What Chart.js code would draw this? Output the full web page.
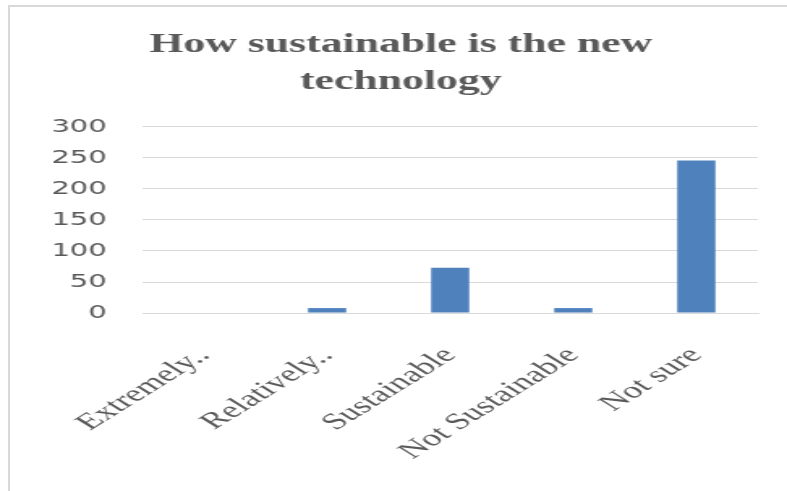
<!DOCTYPE html>
<html lang="en">

<head>
    <meta charset="UTF-8">
    <script src="https://cdn.jsdelivr.net/npm/chart.js"></script>
    <title>How sustainable is the new technology</title>
    <style>
        html, body {
            margin: 0;
            padding: 0;
            background: #ffffff;
            overflow: hidden;
        }

        .frame {
            position: absolute;
            left: 8px;
            top: 5px;
            width: 800px;
            height: 500px;
            border-left: 2px solid #d9d9d9;
            border-top: 2px solid #d9d9d9;
        }

        /* the reference is stretched sideways, so draw narrow and widen */
        .stretch {
            position: absolute;
            left: 0;
            top: 0;
            width: 486px;
            height: 491px;
            transform: scaleX(1.6193);
            transform-origin: 0 0;
        }
    </style>
</head>

<body>
    <div class="frame"></div>
    <div class="stretch">
        <canvas id="sustainChart"></canvas>
    </div>
    <script>
        const categories = ['Extremely..', 'Relatively..', 'Sustainable', 'Not Sustainable', 'Not sure'];
        const counts = [0, 8, 73, 8, 246];
        const yTicks = [0, 50, 100, 150, 200, 250, 300];

        const textColor = '#595959';
        const gridColor = '#d9d9d9';

        const ctx = document.getElementById('sustainChart').getContext('2d');
        new Chart(ctx, {
            type: 'bar',
            data: {
                labels: categories,
                datasets: [{
                    label: 'Responses',
                    data: counts,
                    backgroundColor: '#4f81bd',
                    borderWidth: 0,
                    categoryPercentage: 1,
                    barPercentage: 0.31
                }]
            },
            options: {
                responsive: true,
                maintainAspectRatio: false,
                animation: false,
                layout: {
                    padding: { left: 27, right: 18, top: 0, bottom: 5 }
                },
                plugins: {
                    legend: { display: false },
                    tooltip: { enabled: false },
                    title: {
                        display: true,
                        text: ['How sustainable is the new', 'technology'],
                        color: textColor,
                        font: { family: '"Liberation Serif", serif', size: 27, weight: 'bold', lineHeight: 1.35 },
                        padding: { top: 27, bottom: 27 }
                    }
                },
                scales: {
                    x: {
                        grid: { display: false },
                        border: { color: gridColor },
                        // keep the rotated first label from pushing the plot right
                        afterFit: function (scale) {
                            scale.paddingLeft = 0;
                        },
                        ticks: {
                            color: textColor,
                            font: { family: '"Liberation Serif", serif', size: 23 },
                            minRotation: 45,
                            maxRotation: 45,
                            autoSkip: false,
                            padding: 21
                        }
                    },
                    y: {
                        min: 0,
                        max: 300,
                        afterBuildTicks: function (scale) {
                            scale.ticks = yTicks.map(v => ({ value: v }));
                        },
                        afterFit: function (scale) {
                            scale.width = 61;
                        },
                        grid: { color: gridColor, drawTicks: false },
                        border: { display: false },
                        ticks: {
                            color: textColor,
                            font: { family: '"DejaVu Sans", sans-serif', size: 18 },
                            padding: 22
                        }
                    }
                }
            }
        });
    </script>
</body>

</html>
